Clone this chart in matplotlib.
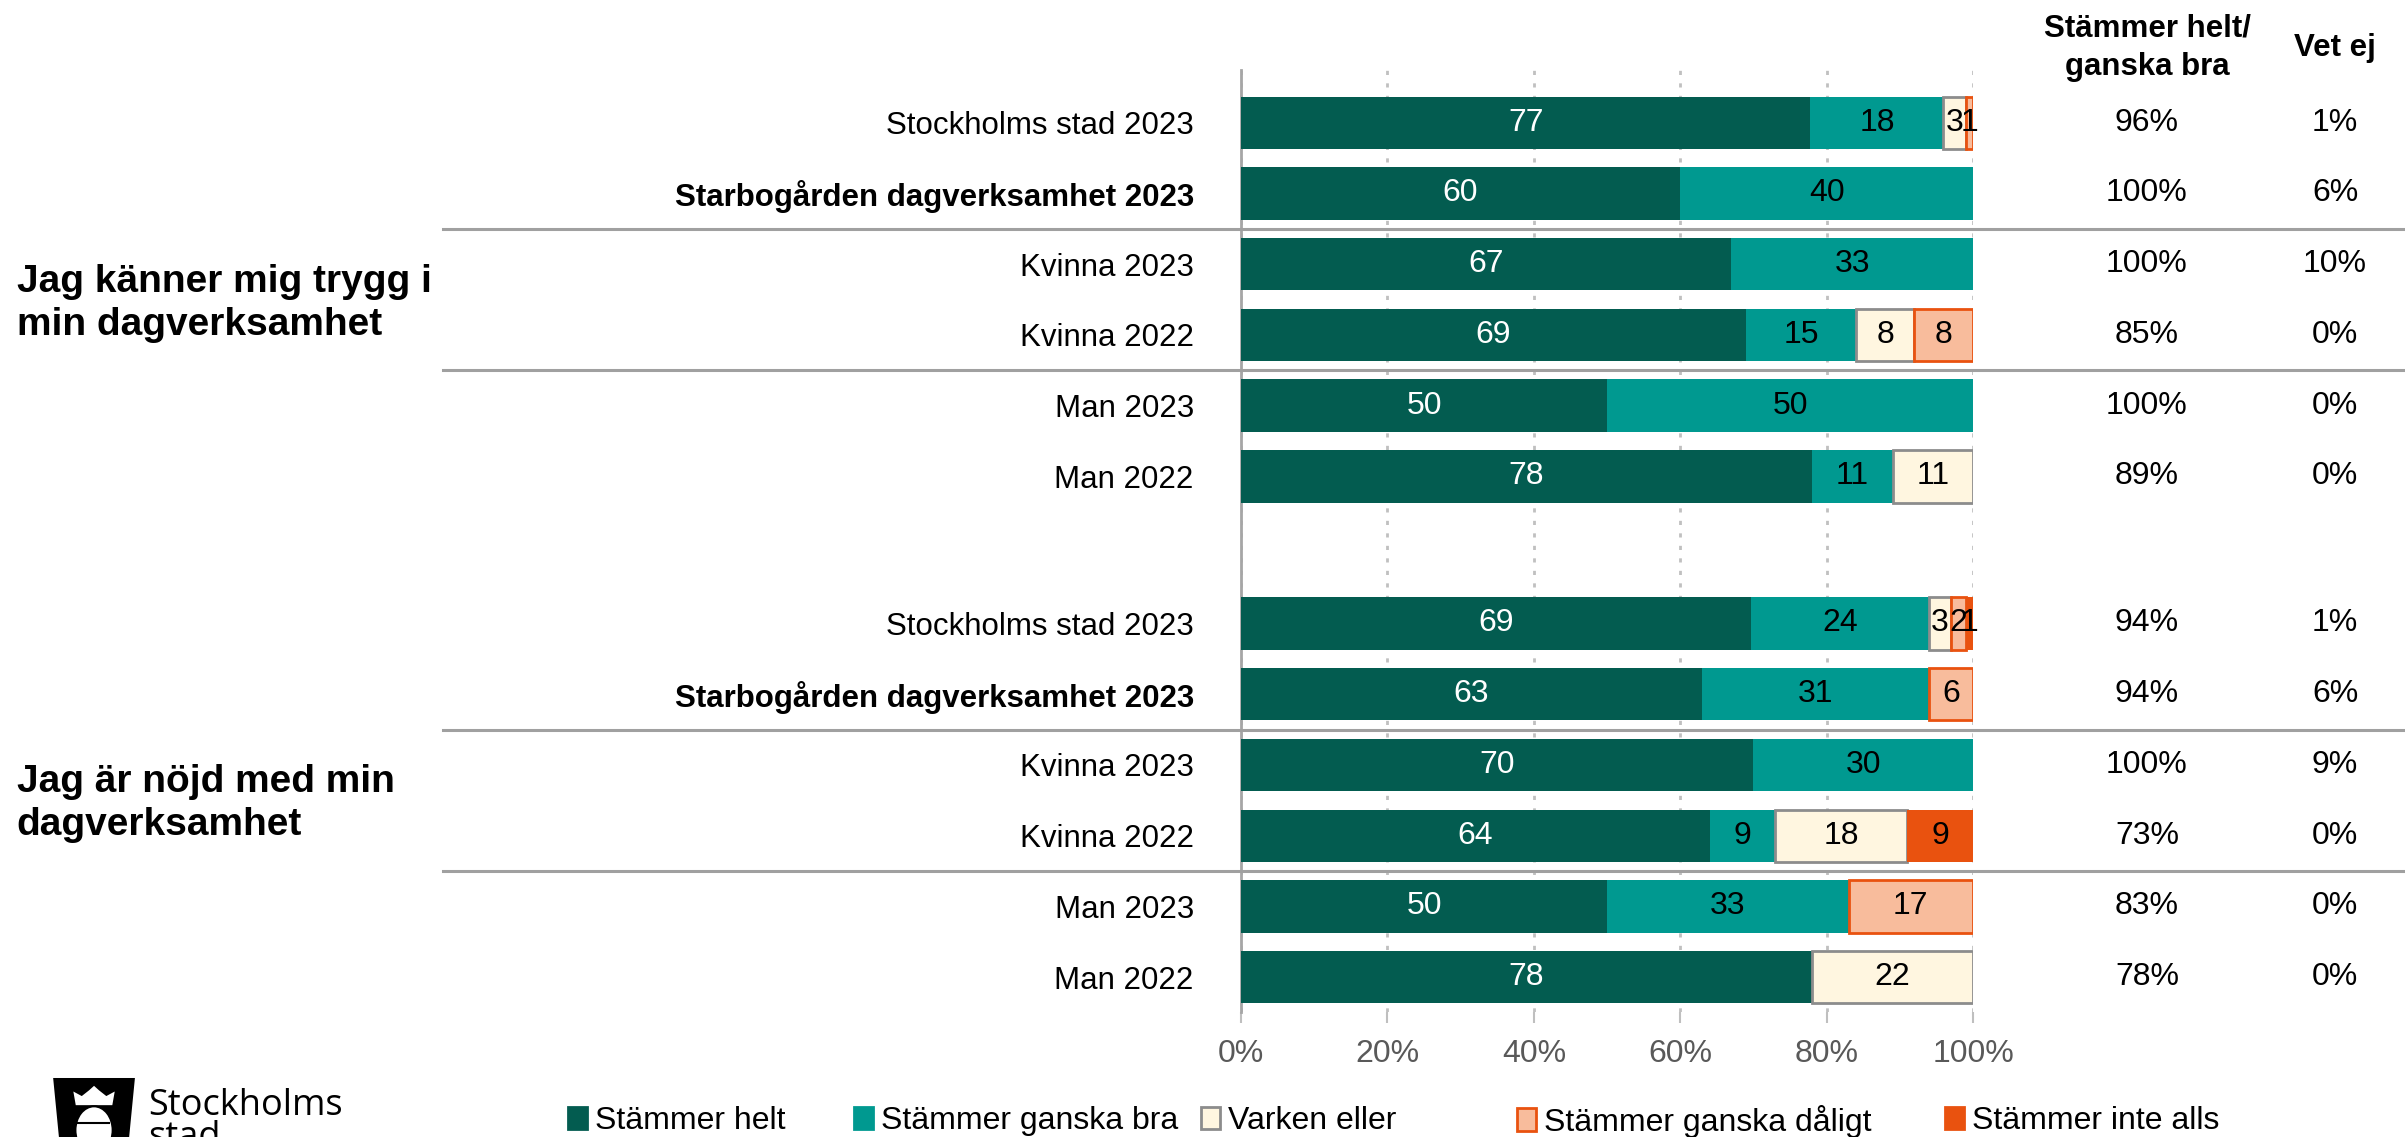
import numpy as np
import matplotlib
matplotlib.use('Agg')
import matplotlib.pyplot as plt
import matplotlib.transforms as mtransforms
from matplotlib.patches import Patch, Polygon, Ellipse

plt.rcParams['font.family'] = ['Liberation Sans', 'DejaVu Sans']

# Data
questions = ['Jag känner mig trygg i\nmin dagverksamhet',
             'Jag är nöjd med min\ndagverksamhet']
rows = ['Stockholms stad 2023', 'Starbogården dagverksamhet 2023',
        'Kvinna 2023', 'Kvinna 2022', 'Man 2023', 'Man 2022']
series = ['Stämmer helt', 'Stämmer ganska bra', 'Varken eller',
          'Stämmer ganska dåligt', 'Stämmer inte alls']

# values per question: one list per row, in order of series
q1_values = [[77, 18, 3, 1, 0],
             [60, 40, 0, 0, 0],
             [67, 33, 0, 0, 0],
             [69, 15, 8, 8, 0],
             [50, 50, 0, 0, 0],
             [78, 11, 11, 0, 0]]
q2_values = [[69, 24, 3, 2, 1],
             [63, 31, 0, 6, 0],
             [70, 30, 0, 0, 0],
             [64, 9, 18, 0, 9],
             [50, 33, 0, 17, 0],
             [78, 0, 22, 0, 0]]
q1_agree = ['96%', '100%', '100%', '85%', '100%', '89%']
q1_dontknow = ['1%', '6%', '10%', '0%', '0%', '0%']
q2_agree = ['94%', '94%', '100%', '73%', '83%', '78%']
q2_dontknow = ['1%', '6%', '9%', '0%', '0%', '0%']

colors = ['#035C50', '#009990', '#FFF6E0', '#F8BC9C', '#E9520F']
edges = ['none', 'none', '#8C8C8C', '#E9520F', 'none']
text_colors = ['white', 'black', 'black', 'black', 'black']

fig = plt.figure(figsize=(24.05, 11.37), dpi=100)
ax = fig.add_axes([0.516, 0.1095, 0.3044, 0.8292])

group_offset = 7.08
values = q1_values + q2_values
ypos = list(np.arange(6)) + list(np.arange(6) + group_offset)
row_labels = rows + rows
agree = q1_agree + q2_agree
dontknow = q1_dontknow + q2_dontknow

for y, vals in zip(ypos, values):
    vals = np.array(vals, dtype=float)
    scaled = vals / vals.sum() * 100
    left = 0.0
    for k in range(len(series)):
        if vals[k] > 0:
            ax.barh(y, scaled[k], left=left, height=0.74, color=colors[k],
                    edgecolor=edges[k], linewidth=2 if edges[k] != 'none' else 0,
                    zorder=3)
            ax.text(left + scaled[k] / 2, y, '%d' % vals[k], ha='center', va='center',
                    fontsize=23, color=text_colors[k], zorder=4)
        left += scaled[k]

ax.set_xlim(0, 100)
ax.set_ylim(group_offset + 5 + 0.5, -0.75)
ax.set_xticks([0, 20, 40, 60, 80, 100])
ax.set_xticklabels(['0%', '20%', '40%', '60%', '80%', '100%'])
ax.tick_params(axis='x', labelsize=23, labelcolor='#595959', color='#BFBFBF',
               length=8, width=1.5, pad=11)
ax.set_yticks(ypos)
ax.set_yticklabels(row_labels)
ax.tick_params(axis='y', length=0, labelsize=22.5, pad=34)
for i in (1, 7):
    ax.get_yticklabels()[i].set_fontweight('bold')

ax.grid(axis='x', linestyle=(0, (1.5, 3)), color='#C0C0C0', linewidth=2)
ax.set_axisbelow(True)
for side in ('top', 'right', 'bottom'):
    ax.spines[side].set_visible(False)
ax.spines['left'].set_color('#A6A6A6')
ax.spines['left'].set_linewidth(2)

# separator lines between sub groups, from left labels to right edge
trans = mtransforms.blended_transform_factory(fig.transFigure, ax.transData)
for y in (1.5, 3.5, group_offset + 1.5, group_offset + 3.5):
    ax.plot([0.184, 1.0], [y, y], transform=trans, color='#A0A0A0',
            linewidth=2.2, clip_on=False, zorder=5)

# question labels
for g, q in enumerate(questions):
    ax.text(0.007, 2.55 + g * group_offset, q, transform=trans, ha='left', va='center',
            fontsize=28, fontweight='bold', linespacing=1.25)

# right hand columns
fig.text(0.8927, 0.958, 'Stämmer helt/\nganska bra', ha='center', va='center',
         fontsize=22.5, fontweight='bold', linespacing=1.35)
fig.text(0.9709, 0.958, 'Vet ej', ha='center', va='center', fontsize=22.5, fontweight='bold')
for y, a, d in zip(ypos, agree, dontknow):
    ax.text(0.8927, y, a, transform=trans, ha='center', va='center', fontsize=23)
    ax.text(0.9709, y, d, transform=trans, ha='center', va='center', fontsize=23)

# legend, one entry per position as in the reference
legend_x = [0.236, 0.3552, 0.4994, 0.6307, 0.8087]
for k in range(len(series)):
    h = Patch(facecolor=colors[k], edgecolor=edges[k] if edges[k] != 'none' else colors[k],
              linewidth=2, label=series[k])
    fig.legend(handles=[h], loc='center left', bbox_to_anchor=(legend_x[k], 0.014),
               frameon=False, fontsize=23, handlelength=0.6, handleheight=0.7,
               handletextpad=0.25, borderpad=0, borderaxespad=0)

# Stockholms stad logo (simplified)
shield = Polygon([[0.0245, 0.0], [0.0221, 0.0519], [0.0561, 0.0519], [0.0537, 0.0]],
                 closed=True, transform=fig.transFigure, facecolor='black',
                 edgecolor='none')
fig.add_artist(shield)
crown = Polygon([[0.0315, 0.028], [0.0305, 0.040], [0.0340, 0.036], [0.0370, 0.041],
                 [0.0391, 0.045], [0.0412, 0.041], [0.0442, 0.036], [0.0477, 0.040],
                 [0.0467, 0.028]],
                closed=True, transform=fig.transFigure, facecolor='white', edgecolor='none')
fig.add_artist(crown)
face = Ellipse((0.0391, 0.006), 0.0155, 0.042, transform=fig.transFigure,
               facecolor='white', edgecolor='black', linewidth=1.5)
fig.add_artist(face)
for ex in (0.0355, 0.0425):
    fig.add_artist(plt.Line2D([ex - 0.003, ex + 0.003], [0.012, 0.012],
                              transform=fig.transFigure, color='black', linewidth=1.5))
fig.text(0.0615, 0.0193, 'Stockholms', ha='left', va='baseline', fontsize=26,
         fontfamily='Open Sans')
fig.text(0.0615, -0.009, 'stad', ha='left', va='baseline', fontsize=26,
         fontfamily='Open Sans')

fig.savefig('out.png', dpi=100)
